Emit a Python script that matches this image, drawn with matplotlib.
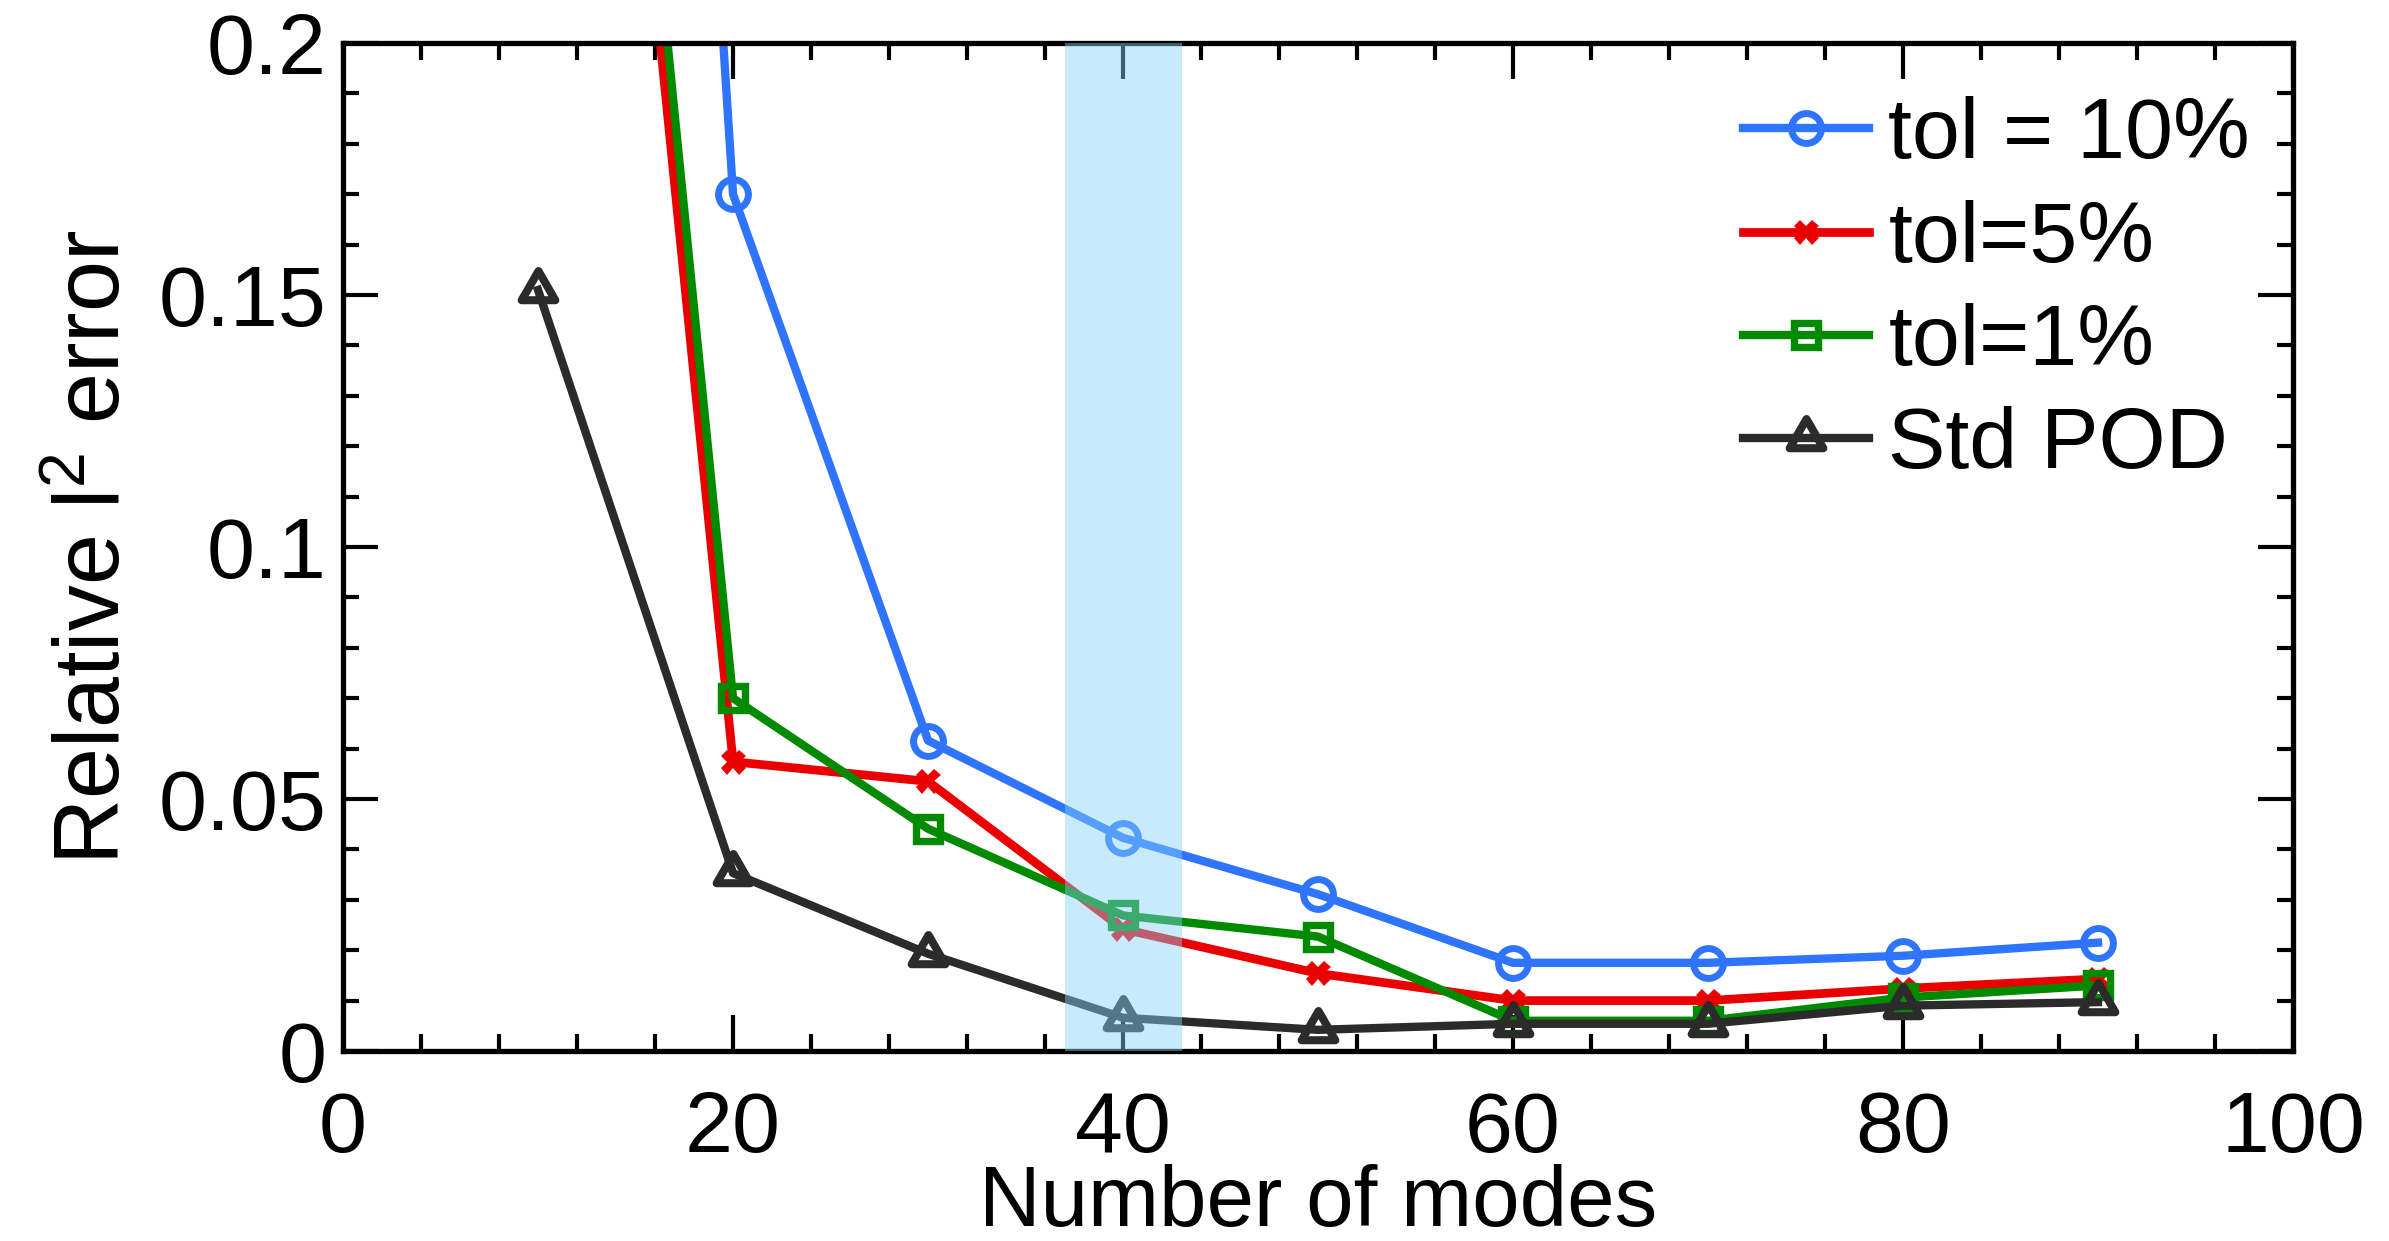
import numpy as np
import matplotlib
matplotlib.use("Agg")
import matplotlib.pyplot as plt
from matplotlib.path import Path

plt.rcParams['font.family'] = ['Liberation Sans', 'DejaVu Sans']
plt.rcParams['mathtext.fontset'] = 'custom'
plt.rcParams['mathtext.rm'] = 'Liberation Sans'
plt.rcParams['mathtext.default'] = 'regular'

modes = [10, 20, 30, 40, 50, 60, 70, 80, 90]
err_tol10 = [0.77, 0.170, 0.0616, 0.0423, 0.0311, 0.0175, 0.0175, 0.0189, 0.0215]
err_tol5 = [0.44, 0.0574, 0.0535, 0.0242, 0.0154, 0.0100, 0.0100, 0.0124, 0.0143]
err_tol1 = [0.457, 0.0700, 0.0441, 0.0269, 0.0227, 0.0060, 0.0060, 0.0106, 0.0130]
err_std = [0.151, 0.0353, 0.0193, 0.0066, 0.0042, 0.0054, 0.0054, 0.0090, 0.0097]
labels = ["tol = 10%", "tol=5%", "tol=1%", "Std POD"]
band = (37, 43)
xticks = [0, 20, 40, 60, 80, 100]
yticks = [0, 0.05, 0.1, 0.15, 0.2]
ytick_labels = ["0", "0.05", "0.1", "0.15", "0.2"]

# triangle centred on its centroid rather than on its bounding box
tri = Path([(0, 1), (-0.866, -0.5), (0.866, -0.5), (0, 1)], closed=True)

fig = plt.figure(figsize=(23.89, 12.41), dpi=100)
ax = fig.add_axes([0.1436, 0.1531, 0.8162, 0.8122])

FS = 62
ax.plot(modes, err_tol10, color="#2f74ff", lw=6, marker="o", ms=21.5,
        mfc="none", mew=5, label=labels[0])
ax.plot(modes, err_tol5, color="#ea0000", lw=6.3, marker="X", ms=18,
        mew=0, label=labels[1])
ax.plot(modes, err_tol1, color="#008a00", lw=6, marker="s", ms=17,
        mfc="none", mew=5.3, label=labels[2])
ax.plot(modes, err_std, color="#2b2b2b", lw=6, marker=tri, ms=28,
        mfc="none", mew=5.8, label=labels[3])

ax.axvspan(*band, color="#87d3f8", alpha=0.45, lw=0, zorder=10)

ax.set_xlim(0, 100)
ax.set_ylim(0, 0.2)
ax.set_xticks(xticks)
ax.set_xticks(np.arange(0, 101, 4), minor=True)
ax.set_yticks(yticks)
ax.set_yticklabels(ytick_labels)
ax.set_yticks(np.arange(0, 0.2001, 0.01), minor=True)

ax.tick_params(which="both", direction="in", top=True, right=True,
               labelsize=FS, width=3)
ax.tick_params(axis="x", which="major", length=26, pad=28)
ax.tick_params(axis="x", which="minor", length=12)
ax.tick_params(axis="y", which="major", length=25, pad=12)
ax.tick_params(axis="y", which="minor", length=11.5)
for s in ax.spines.values():
    s.set_linewidth(3.8)

ax.set_xlabel("Number of modes", fontsize=61.5, labelpad=-4)
ax.set_ylabel("Relative l$^2$ error", fontsize=66, labelpad=14)

ax.legend(loc="upper right", bbox_to_anchor=(0.978, 0.947), frameon=False,
          fontsize=FS, handlelength=1.47, handletextpad=0.22,
          labelspacing=0.27, borderaxespad=0, borderpad=0)

fig.savefig("out.png", dpi=100)
